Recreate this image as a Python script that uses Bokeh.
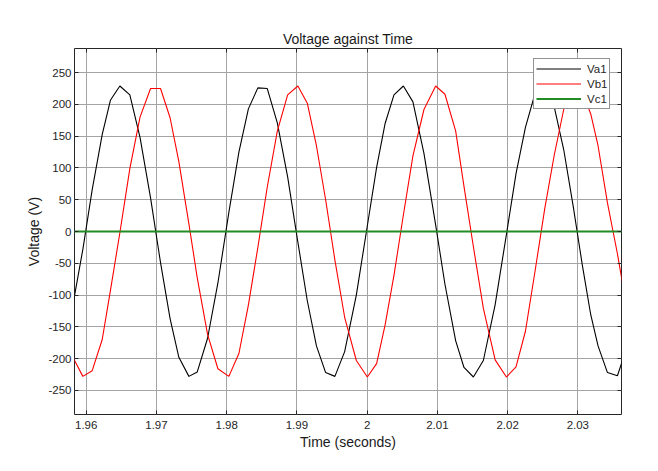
from bokeh.plotting import figure
from bokeh.models import FixedTicker, LinearAxis, Range1d
from bokeh.embed import file_html
from bokeh.resources import INLINE

# sample times (s)
time_s = [1.95811, 1.95952, 1.96085, 1.96228, 1.96346, 1.96479, 1.96621, 1.96766,
          1.96916, 1.97058, 1.97194, 1.97319, 1.97462, 1.97581, 1.97728, 1.97875,
          1.98031, 1.98174, 1.98309, 1.98444, 1.98578, 1.98721, 1.98868, 1.99014,
          1.99148, 1.99278, 1.99409, 1.99541, 1.99680, 1.99846, 2.00003, 2.00135,
          2.00256, 2.00382, 2.00516, 2.00652, 2.00809, 2.00976, 2.01108, 2.01261,
          2.01379, 2.01513, 2.01655, 2.01823, 2.01983, 2.02120, 2.02254, 2.02393,
          2.02529, 2.02664, 2.02799, 2.02934, 2.03063, 2.03184, 2.03288, 2.03422,
          2.03564, 2.03697]

va1 = [-115, -28, 66, 153, 207, 229, 215, 148, 53, -49, -137, -198, -228, -221,
       -168, -81, 30, 125, 193, 226, 225, 171, 86, -17, -109, -180, -222, -228,
       -189, -100, 9, 101, 170, 215, 229, 204, 123, 10, -83, -172, -214, -229,
       -203, -115, -5, 91, 164, 218, 227, 196, 129, 40, -52, -131, -180, -222,
       -227, -183]

vb1 = [-198, -228, -219, -170, -92, -2, 99, 180, 225, 225, 179, 110, 12, -73,
       -162, -216, -228, -192, -116, -25, 70, 158, 215, 229, 202, 135, 50, -45,
       -135, -203, -229, -208, -147, -69, 26, 119, 192, 229, 216, 158, 71, -24,
       -121, -202, -229, -213, -157, -61, 36, 120, 192, 227, 221, 185, 135, 45,
       -35, -120]

vc1 = [0, 0, 0, 0, 0, 0, 0, 0, 0, 0, 0, 0, 0, 0, 0, 0, 0, 0, 0, 0, 0, 0, 0, 0,
       0, 0, 0, 0, 0, 0, 0, 0, 0, 0, 0, 0, 0, 0, 0, 0, 0, 0, 0, 0, 0, 0, 0, 0,
       0, 0, 0, 0, 0, 0, 0, 0, 0, 0]

series_names = ["Va1", "Vb1", "Vc1"]

x_ticks = [1.96, 1.97, 1.98, 1.99, 2.0, 2.01, 2.02, 2.03]
x_tick_labels = ["1.96", "1.97", "1.98", "1.99", "2", "2.01", "2.02", "2.03"]
y_ticks = [-250, -200, -150, -100, -50, 0, 50, 100, 150, 200, 250]
y_tick_labels = ["-250", "-200", "-150", "-100", "-50", "0", "50", "100", "150", "200", "250"]

FONT = "Liberation Sans"
TXT = "#262626"

p = figure(width=658, height=471, output_backend="svg", toolbar_location=None,
           x_range=Range1d(1.95833, 2.03622), y_range=Range1d(-288, 288),
           min_border_left=74, min_border_right=37, min_border_top=48,
           min_border_bottom=57, title="Voltage against Time")

p.background_fill_color = "white"
p.border_fill_color = "white"
p.outline_line_color = TXT
p.outline_line_width = 1

p.title.align = "center"
p.title.text_font = FONT
p.title.text_font_size = "14px"
p.title.text_font_style = "normal"
p.title.text_color = "#1a1a1a"
p.title.standoff = 3

p.line(time_s, va1, line_color="#000000", line_width=1.1, legend_label=series_names[0])
p.line(time_s, vb1, line_color="#ff0000", line_width=1.1, legend_label=series_names[1])
p.line(time_s, vc1, line_color="#238b23", line_width=1.8, legend_label=series_names[2])

xax = p.xaxis[0]
xax.ticker = FixedTicker(ticks=x_ticks)
xax.major_label_overrides = {t: l for t, l in zip(x_ticks, x_tick_labels)}
yax = p.yaxis[0]
yax.ticker = FixedTicker(ticks=y_ticks)
yax.major_label_overrides = {t: l for t, l in zip(y_ticks, y_tick_labels)}

for ax in (xax, yax):
    ax.axis_line_color = None
    ax.major_tick_in = 4
    ax.major_tick_out = 0
    ax.major_tick_line_color = TXT
    ax.minor_tick_line_color = None
    ax.major_label_text_font = FONT
    ax.major_label_text_font_size = "11.5px"
    ax.major_label_text_color = TXT
    ax.axis_label_text_font = FONT
    ax.axis_label_text_font_size = "14px"
    ax.axis_label_text_font_style = "normal"
    ax.axis_label_text_color = "#1a1a1a"

xax.axis_label = "Time (seconds)"
xax.major_label_standoff = 6
xax.axis_label_standoff = 2
yax.axis_label = "Voltage (V)"
yax.major_label_standoff = 3
yax.axis_label_standoff = 3

# inward tick marks on the right and top edges (MATLAB box style)
right_ax = LinearAxis(ticker=FixedTicker(ticks=y_ticks), major_tick_in=4, major_tick_out=0,
                      major_tick_line_color=TXT, minor_tick_line_color=None,
                      axis_line_color=None, major_label_text_font_size="0px",
                      major_label_standoff=0)
top_ax = LinearAxis(ticker=FixedTicker(ticks=x_ticks), major_tick_in=4, major_tick_out=0,
                    major_tick_line_color=TXT, minor_tick_line_color=None,
                    axis_line_color=None, major_label_text_font_size="0px",
                    major_label_standoff=0)
p.add_layout(right_ax, "right")
p.add_layout(top_ax, "above")

for g in (p.xgrid[0], p.ygrid[0]):
    g.grid_line_color = "#a4a4a4"
    g.grid_line_width = 1

lg = p.legend[0]
lg.location = (459, 305)
lg.border_line_color = TXT
lg.border_line_width = 1
lg.background_fill_color = "white"
lg.background_fill_alpha = 1
lg.label_text_font = FONT
lg.label_text_font_size = "11.5px"
lg.label_text_color = TXT
lg.glyph_width = 45
lg.glyph_height = 15
lg.label_height = 15
lg.label_standoff = 6
lg.padding = 2
lg.spacing = 0
lg.margin = 0

open("out.html", "w").write(file_html(p, INLINE))
